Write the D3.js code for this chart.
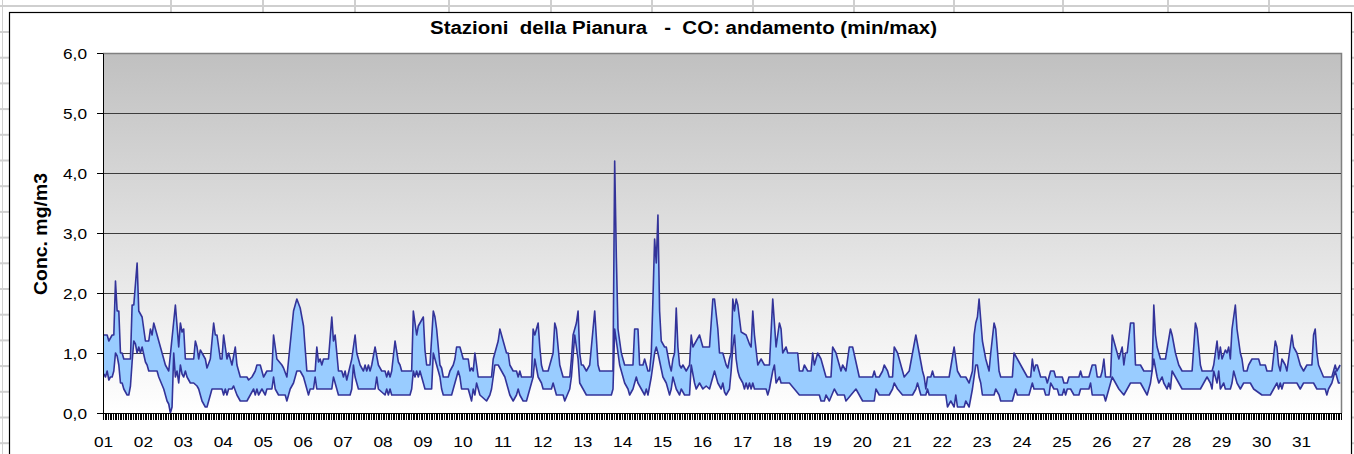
<!DOCTYPE html>
<html>
<head>
<meta charset="utf-8">
<script src="https://cdn.jsdelivr.net/npm/d3@7"></script>
<style>
  html, body { margin: 0; padding: 0; background: #fff; }
  svg { display: block; font-family: "Liberation Sans", Arial, sans-serif; }
</style>
</head>
<body>
<svg id="chart" width="1354" height="454"></svg>
<script>
    //============================================================
    // Data (hour of month, mg/m3)
    //------------------------------------------------------------

    var dayLabels = ['01', '02', '03', '04', '05', '06', '07', '08', '09', '10', '11', '12', '13', '14', '15', '16',
        '17', '18', '19', '20', '21', '22', '23', '24', '25', '26', '27', '28', '29', '30', '31'];
    var yTickValues = [0, 1, 2, 3, 4, 5, 6];
    var hoursInMonth = 744;

    var maxPoints = [
        [0,1.3],[2,1.3],[3,1.2],[5,1.3],[6,1.3],[7,2.2],[8,1.7],[9,1.7],[10,1.0],[11,1.0],[12,0.9],[16,0.9],[17,1.8],[18,1.8],[20,2.5],[21,1.7],[22,1.65],[23,1.6],
        [25,1.2],[27,1.2],[28,1.4],[29,1.3],[30,1.5],[32,1.3],[34,1.1],[36,0.9],[37,0.8],[39,0.7],[43,1.8],[45,1.1],[46,1.5],[47,1.35],
        [48,1.4],[49,0.9],[54,0.9],[55,1.2],[56,1.1],[57,0.9],[58,1.05],[60,0.95],[61,0.9],[62,0.75],[64,0.9],[66,1.5],[67,1.3],[68,1.3],[70,0.9],[71,0.9],
        [72,1.3],[74,0.9],[75,1.0],[77,0.8],[79,1.1],[80,0.8],[82,0.6],[86,0.6],[87,0.55],[89,0.6],[91,0.7],[92,0.8],[94,0.8],[95,0.7],
        [96,0.6],[98,0.7],[101,0.7],[102,1.3],[104,0.9],[107,0.8],[108,0.75],[110,0.6],[114,1.7],[115,1.8],[116,1.9],[118,1.75],
        [120,1.45],[122,0.7],[127,0.7],[128,1.1],[129,0.85],[130,0.9],[131,0.8],[132,0.9],[135,0.9],[137,1.6],[138,1.2],[139,1.3],[141,0.7],[143,0.7],
        [144,0.6],[145,0.7],[146,0.55],[149,0.9],[151,1.3],[152,1.0],[154,0.8],[156,0.7],[157,0.8],[158,0.7],[159,0.8],[160,0.7],[161,0.8],[163,1.1],[165,0.8],[167,0.7],
        [169,0.7],[170,0.6],[171,0.7],[172,0.6],[173,0.7],[175,1.2],[177,0.85],[178,0.8],[179,0.7],[185,0.7],[186,1.7],[188,1.3],[189,1.45],[191,1.55],
        [192,1.6],[193,1.05],[194,0.8],[196,0.8],[198,1.7],[199,1.6],[200,1.4],[202,0.8],[203,0.75],[204,0.6],[207,0.6],[208,0.7],[210,0.8],[211,0.9],[212,1.1],[214,1.1],
        [216,0.9],[219,0.9],[220,0.7],[221,0.75],[222,0.7],[223,1.0],[224,0.8],[225,0.6],[233,0.6],[234,0.9],[236,1.1],[237,1.2],[238,1.4],[239,1.3],
        [240,1.2],[242,1.0],[243,1.0],[244,0.8],[246,0.7],[248,0.7],[249,0.6],[250,0.7],[251,0.6],[257,0.6],[258,1.4],[259,1.3],[261,1.5],[262,1.1],[263,0.8],
        [264,0.7],[267,0.7],[268,0.8],[270,1.0],[271,1.5],[272,1.4],[274,0.8],[275,0.7],[276,0.6],[280,0.6],[281,0.9],[282,1.3],[283,1.4],[284,1.5],[285,1.7],[286,1.0],[287,0.8],
        [288,0.8],[290,0.7],[292,0.8],[295,1.7],[297,0.8],[298,0.7],[306,0.7],[307,4.2],[308,2.6],[309,1.4],[310,1.2],[311,1.0],
        [313,0.8],[318,0.8],[319,1.4],[321,1.4],[322,0.8],[324,0.8],[325,0.9],[326,0.8],[327,0.7],[328,0.7],[329,1.0],[330,1.9],[331,2.9],[332,2.5],[333,3.3],[334,1.7],[335,1.2],
        [337,1.1],[338,1.1],[340,0.8],[341,0.7],[342,0.9],[343,1.0],[344,1.75],[345,1.1],[346,0.8],[347,0.75],[348,0.8],[350,0.7],[351,0.75],[352,0.8],[353,1.3],[354,1.1],[356,1.2],[358,1.3],
        [360,1.1],[364,1.1],[365,1.5],[366,1.9],[367,1.9],[369,1.4],[370,1.0],[372,1.0],[373,0.9],[374,0.8],[375,0.75],[376,0.9],[377,1.0],[378,1.9],[379,1.7],[380,1.9],[381,1.8],[383,1.35],
        [386,1.3],[388,1.15],[389,1.1],[390,1.7],[391,1.3],[393,0.8],[395,0.9],[397,0.8],[400,0.8],[402,1.9],[404,1.1],[406,1.5],[407,1.4],
        [408,1.0],[410,1.1],[411,1.0],[417,1.0],[418,0.7],[420,0.7],[421,0.8],[423,0.7],[425,0.7],[426,1.0],[427,0.8],[428,0.9],[429,1.0],[431,0.9],
        [432,0.8],[434,0.6],[437,0.6],[438,1.1],[440,1.0],[443,0.7],[444,0.8],[446,0.7],[448,1.1],[450,1.1],[452,0.85],[454,0.6],
        [462,0.6],[463,0.7],[464,0.6],[466,0.6],[468,0.7],[469,0.8],[471,0.7],[472,0.6],[474,0.6],[475,1.1],[477,1.0],[478,0.9],
        [480,0.7],[481,0.6],[484,0.7],[486,1.0],[488,1.3],[490,1.0],[492,0.7],[493,0.6],[494,0.4],[495,0.6],[497,0.6],[498,0.7],[499,0.6],
        [508,0.6],[511,1.1],[513,0.7],[515,0.6],[518,0.6],[520,0.5],[522,0.7],[523,1.3],[524,1.5],[525,1.6],[526,1.9],
        [528,1.2],[530,0.9],[532,0.7],[533,1.0],[535,1.5],[536,1.4],[538,0.7],[539,0.6],[546,0.6],[547,1.0],[549,0.9],[551,0.8],
        [553,0.7],[555,0.6],[557,0.6],[558,0.9],[559,0.7],[560,0.8],[561,0.8],[562,0.7],[563,0.6],[566,0.6],[567,0.5],[568,0.6],[569,0.7],[571,0.7],[572,0.6],
        [576,0.6],[577,0.5],[579,0.5],[580,0.6],[586,0.6],[587,0.7],[588,0.6],[592,0.6],[594,0.8],[596,0.8],[597,0.6],[599,0.6],
        [600,0.7],[601,0.9],[602,0.6],[605,0.6],[606,1.3],[607,1.2],[609,1.0],[610,0.9],[612,1.1],[613,0.8],[614,1.0],[615,1.0],[617,1.5],[619,1.5],[620,0.8],[623,0.8],
        [625,0.7],[630,0.7],[631,1.8],[632,1.3],[633,1.1],[635,0.9],[638,0.9],[641,1.4],[642,1.3],[644,1.0],[646,0.8],
        [648,0.7],[654,0.7],[656,1.5],[657,1.4],[659,0.8],[660,0.7],[666,0.7],[667,0.8],[669,1.2],[670,0.9],[671,1.1],
        [672,0.9],[674,1.05],[675,1.0],[676,1.1],[677,0.9],[678,1.4],[680,1.8],[681,1.4],[683,1.0],[684,0.9],[685,0.7],[687,0.7],[688,0.8],[690,0.9],[694,0.9],[695,0.8],
        [698,0.8],[699,0.7],[702,0.7],[704,1.2],[705,1.1],[706,0.8],[707,0.7],[708,0.9],[710,0.8],[711,0.7],[714,1.3],[715,1.1],[717,1.0],[719,0.8],
        [721,0.7],[723,0.8],[726,0.8],[727,1.3],[728,1.4],[729,1.0],[730,0.8],[733,0.6],[738,0.6],[739,0.7],[740,0.8],[741,0.7],[743,0.8]
    ];

    var minPoints = [
        [0,0.65],[1,0.6],[2,0.7],[3,0.55],[4,0.6],[5,0.6],[6,0.7],[7,1.0],[8,0.95],[9,0.8],[10,0.5],[11,0.5],[12,0.4],[14,0.3],[15,0.3],[16,0.45],[17,0.85],[18,1.2],[19,1.15],[20,1.0],[21,1.1],[22,1.0],[23,1.1],
        [25,0.85],[26,0.8],[27,0.7],[32,0.7],[33,0.6],[36,0.4],[38,0.2],[39,0.15],[40,0.0],[41,0.1],[42,1.0],[43,0.6],[44,0.7],[45,0.5],[46,0.8],[47,0.65],
        [48,0.6],[49,0.7],[50,0.6],[52,0.5],[54,0.5],[56,0.45],[57,0.4],[59,0.2],[61,0.1],[62,0.1],[63,0.2],[65,0.4],[71,0.4],
        [72,0.3],[73,0.4],[74,0.3],[75,0.4],[77,0.4],[78,0.45],[80,0.3],[82,0.2],[86,0.2],[88,0.3],[90,0.4],[91,0.3],[92,0.4],[93,0.3],[95,0.4],
        [97,0.3],[98,0.4],[101,0.4],[102,0.6],[103,0.4],[105,0.3],[109,0.3],[110,0.2],[112,0.4],[114,0.5],[116,0.7],[118,0.7],
        [120,0.6],[122,0.4],[123,0.3],[124,0.4],[126,0.4],[127,0.6],[128,0.4],[137,0.4],[138,0.6],[140,0.4],[141,0.3],
        [148,0.3],[149,0.4],[150,0.8],[151,0.6],[153,0.4],[163,0.4],[164,0.6],[165,0.4],
        [169,0.3],[170,0.4],[171,0.3],[172,0.4],[173,0.3],[184,0.3],[185,0.4],[186,0.7],[187,0.6],[188,0.7],[189,0.6],[190,0.7],[191,0.6],
        [193,0.4],[197,0.4],[198,1.0],[200,0.8],[202,0.6],[203,0.4],[204,0.3],[209,0.3],[210,0.4],[211,0.5],[212,0.6],[213,0.7],[214,0.6],[215,0.4],
        [219,0.4],[220,0.3],[221,0.2],[222,0.4],[223,0.3],[224,0.5],[225,0.4],[226,0.3],[230,0.2],[232,0.3],[233,0.4],[234,0.6],[235,0.8],[237,0.8],[239,0.7],
        [241,0.6],[242,0.5],[243,0.4],[244,0.3],[246,0.2],[248,0.3],[249,0.4],[250,0.3],[252,0.2],[254,0.2],[255,0.3],[258,0.6],[259,0.9],[261,0.6],[263,0.5],
        [264,0.4],[269,0.4],[270,0.5],[271,0.4],[272,0.3],[276,0.3],[277,0.2],[280,0.4],[281,0.6],[283,1.3],[285,0.9],[286,0.5],
        [288,0.4],[290,0.3],[305,0.3],[306,0.4],[307,1.4],[309,1.0],[310,0.8],
        [313,0.5],[315,0.4],[316,0.3],[318,0.4],[320,0.6],[321,0.5],[323,0.4],[325,0.3],[326,0.4],[327,0.3],[329,0.6],[331,1.0],[332,1.1],[333,1.0],
        [336,0.6],[338,0.5],[340,0.3],[341,0.4],[342,0.6],[344,0.4],[346,0.3],[347,0.4],[349,0.3],[352,0.3],[353,0.8],[355,0.5],[356,0.4],[358,0.5],
        [360,0.4],[362,0.45],[364,0.4],[367,0.7],[369,0.5],[371,0.4],[372,0.5],[373,0.35],[374,0.3],[376,0.4],[377,0.7],[378,1.1],[379,1.3],[380,0.9],[381,0.7],[382,0.6],
        [384,0.5],[385,0.4],[386,0.5],[387,0.4],[388,0.5],[389,0.4],[390,0.5],[391,0.4],[398,0.4],[399,0.3],[400,0.4],[402,0.7],[403,0.8],[404,0.5],[406,0.6],[407,0.5],
        [412,0.5],[415,0.4],[418,0.3],[430,0.3],[431,0.2],
        [433,0.2],[434,0.3],[436,0.2],[439,0.4],[441,0.3],[445,0.3],[446,0.2],[449,0.3],[452,0.4],[454,0.3],
        [456,0.2],[463,0.2],[464,0.4],[466,0.3],[472,0.3],[474,0.4],[475,0.5],[477,0.4],
        [480,0.3],[486,0.3],[488,0.4],[489,0.5],[491,0.3],[494,0.3],[495,0.4],[496,0.3],
        [506,0.3],[507,0.1],[509,0.2],[511,0.1],[512,0.3],[513,0.1],[517,0.1],[518,0.2],[520,0.1],[522,0.4],[524,0.8],[525,0.8],[526,0.6],[527,0.5],
        [528,0.3],[535,0.3],[536,0.4],[538,0.3],[539,0.2],[546,0.2],[547,0.3],[548,0.4],[549,0.3],
        [556,0.3],[557,0.4],[558,0.5],[559,0.4],[565,0.4],[566,0.3],[568,0.3],[569,0.5],[571,0.4],[573,0.4],[574,0.3],
        [576,0.3],[577,0.4],[578,0.3],[579,0.4],[581,0.4],[583,0.3],[586,0.3],[587,0.4],[592,0.4],[593,0.5],[594,0.3],
        [601,0.3],[602,0.2],[603,0.3],[605,0.5],[606,0.6],[608,0.5],[610,0.4],[613,0.3],[615,0.4],[617,0.5],[623,0.5],
        [625,0.4],[627,0.3],[629,0.5],[631,0.9],[633,0.6],[634,0.5],[636,0.6],[637,0.5],[639,0.4],[640,0.5],[641,0.4],[642,0.7],[644,0.6],[646,0.5],
        [648,0.4],[659,0.4],[661,0.5],[663,0.6],[665,0.5],[666,0.4],[667,0.7],[668,0.6],[669,0.5],[670,0.7],[671,0.4],
        [673,0.5],[674,0.4],[677,0.4],[678,0.5],[679,0.7],[681,0.5],[683,0.4],[685,0.5],[689,0.5],[691,0.4],[696,0.3],
        [701,0.3],[703,0.4],[705,0.5],[706,0.4],[707,0.5],[708,0.4],[709,0.5],[717,0.5],[719,0.4],
        [721,0.5],[727,0.5],[729,0.4],[734,0.4],[735,0.3],[736,0.4],[738,0.5],[739,0.6],[740,0.7],[742,0.5],[743,0.5]
    ];

    //============================================================
    // Layout
    //------------------------------------------------------------

    var width = 1354,
        height = 454,
        plotLeft = 103,
        plotRight = 1341,
        plotTop = 53,
        plotBottom = 413,
        lineColor = '#333399',
        fillColor = '#99ccff',
        sheetColor = '#cfcfcf',
        labelFont = '"Liberation Sans", Arial, sans-serif',
        textStretch = 'scale(1.15,1)';

    var svg = d3.select('#chart');

    var x = d3.scaleLinear().domain([0, hoursInMonth]).range([plotLeft, plotRight]);
    var y = d3.scaleLinear().domain([0, 6]).range([plotBottom, plotTop]);

    // italian decimal comma for the value axis
    var itLocale = d3.formatLocale({decimal: ',', thousands: '.', grouping: [3], currency: ['', ' €']});
    var fmt = itLocale.format('.1f');

    //============================================================
    // Spreadsheet cells showing round the chart object
    //------------------------------------------------------------

    var sheet = svg.append('g').attr('class', 'sheet')
        .style('stroke', sheetColor);

    sheet.append('line')
        .attr('x1', 0).attr('x2', width)
        .attr('y1', 6).attr('y2', 6)
        .style('stroke-width', 2);

    var colLines = [171, 263, 355, 449, 551, 652, 753, 854, 954, 1063, 1168, 1269];
    sheet.selectAll('line.col')
        .data(colLines)
        .enter()
        .append('line')
        .attr('class', 'col')
        .attr('x1', function(d) { return d; })
        .attr('x2', function(d) { return d; })
        .attr('y1', 0).attr('y2', 12)
        .style('stroke-width', 2);

    sheet.append('line')
        .attr('x1', 2.5).attr('x2', 2.5)
        .attr('y1', 0).attr('y2', height)
        .style('stroke-width', 1);

    var rowLines = d3.range(0, 17).map(function(k) { return 32 + k * 25.7; });
    sheet.selectAll('line.row')
        .data(rowLines)
        .enter()
        .append('line')
        .attr('class', 'row')
        .attr('x1', 0).attr('x2', 9)
        .attr('y1', function(d) { return d; })
        .attr('y2', function(d) { return d; })
        .style('stroke-width', 2);
    sheet.selectAll('line.rowR')
        .data(rowLines)
        .enter()
        .append('line')
        .attr('class', 'rowR')
        .attr('x1', 1352).attr('x2', width)
        .attr('y1', function(d) { return d; })
        .attr('y2', function(d) { return d; })
        .style('stroke-width', 2);

    // chart object frame
    svg.append('rect')
        .attr('x', 9.5).attr('y', 12.5)
        .attr('width', 1342).attr('height', 460)
        .style('fill', '#fff')
        .style('stroke', '#000')
        .style('stroke-width', 1.2);

    //============================================================
    // Plot area: grey gradient, gridlines
    //------------------------------------------------------------

    var grad = svg.append('defs').append('linearGradient')
        .attr('id', 'plotBg')
        .attr('x1', 0).attr('y1', 0)
        .attr('x2', 0).attr('y2', 1);
    grad.append('stop').attr('offset', '0%').attr('stop-color', '#c0c0c0');
    grad.append('stop').attr('offset', '100%').attr('stop-color', '#ffffff');

    svg.append('rect')
        .attr('x', plotLeft).attr('y', plotTop)
        .attr('width', plotRight - plotLeft).attr('height', plotBottom - plotTop)
        .style('fill', 'url(#plotBg)');

    svg.append('path')
        .attr('d', 'M' + plotLeft + ',' + (plotTop + 0.5) + 'H' + (plotRight + 0.5) + 'V' + plotBottom)
        .style('fill', 'none')
        .style('stroke', '#808080')
        .style('stroke-width', 1.5);

    svg.append('g').attr('class', 'grid')
        .selectAll('line')
        .data(yTickValues.slice(1, -1))
        .enter()
        .append('line')
        .attr('x1', plotLeft).attr('x2', plotRight)
        .attr('y1', function(d) { return y(d) + 0.5; })
        .attr('y2', function(d) { return y(d) + 0.5; })
        .style('stroke', '#3c3c3c')
        .style('stroke-width', 1);

    //============================================================
    // Min / max band
    //------------------------------------------------------------

    var line = d3.line()
        .x(function(d) { return x(d[0] + 0.5); })
        .y(function(d) { return y(d[1]); });

    var band = maxPoints.concat(minPoints.slice().reverse());
    svg.append('path')
        .attr('class', 'band')
        .attr('d', line(band) + 'Z')
        .style('fill', fillColor)
        .style('stroke', 'none');

    [maxPoints, minPoints].forEach(function(series) {
        svg.append('path')
            .attr('d', line(series))
            .style('fill', 'none')
            .style('stroke', lineColor)
            .style('stroke-width', 1.6)
            .style('stroke-linejoin', 'round');
    });

    //============================================================
    // Axes
    //------------------------------------------------------------

    var yAxisG = svg.append('g')
        .attr('transform', 'translate(' + plotLeft + ',0)')
        .attr('color', '#000')
        .call(d3.axisLeft(y).tickValues(yTickValues).tickSize(6).tickSizeOuter(0).tickFormat(fmt))
        .attr('font-family', labelFont)
        .attr('font-size', 15);
    yAxisG.selectAll('.tick text')
        .attr('x', 0)
        .attr('dy', '0.35em')
        .attr('transform', 'translate(-16,0) ' + textStretch)
        .style('font-weight', 'normal')
        .style('fill', '#000');

    var xLabelG = svg.append('g')
        .attr('transform', 'translate(0,' + plotBottom + ')')
        .call(d3.axisBottom(x)
            .tickValues(d3.range(0, dayLabels.length).map(function(i) { return i * 24; }))
            .tickSize(0)
            .tickFormat(function(d, i) { return dayLabels[i]; }))
        .attr('font-family', labelFont)
        .attr('font-size', 15);
    xLabelG.select('.domain').remove();
    xLabelG.selectAll('.tick text')
        .attr('y', 0)
        .attr('dy', null)
        .attr('transform', 'translate(0,34) ' + textStretch)
        .style('font-weight', 'normal')
        .style('fill', '#000');

    //============================================================
    // Titles
    //------------------------------------------------------------

    svg.append('text')
        .attr('x', 683.5)
        .attr('y', 34)
        .attr('text-anchor', 'middle')
        .attr('textLength', 507)
        .attr('lengthAdjust', 'spacingAndGlyphs')
        .attr('xml:space', 'preserve')
        .style('white-space', 'pre')
        .style('font-size', '17.5px')
        .style('font-weight', 'bold')
        .text('Stazioni  della Pianura   -  CO: andamento (min/max)');

    svg.append('text')
        .attr('transform', 'translate(46.5,234) ' + textStretch + ' rotate(-90)')
        .attr('text-anchor', 'middle')
        .attr('textLength', 122)
        .attr('lengthAdjust', 'spacingAndGlyphs')
        .style('font-size', '16.5px')
        .style('font-weight', 'bold')
        .text('Conc. mg/m3');

    //============================================================
    // Category axis: line and one tick mark per hour (drawn last)
    //------------------------------------------------------------

    svg.append('path')
        .attr('class', 'hour-ticks')
        .attr('d', d3.range(0, hoursInMonth + 1).map(function(d) {
            return 'M' + (Math.round(x(d)) + 0.5) + ',' + (plotBottom + 1) + 'v6';
        }).join(''))
        .style('fill', 'none')
        .style('stroke', '#000')
        .style('stroke-width', 1);

    svg.append('line')
        .attr('x1', plotLeft).attr('x2', plotRight + 1)
        .attr('y1', plotBottom + 0.5).attr('y2', plotBottom + 0.5)
        .style('stroke', '#000')
        .style('stroke-width', 1);
</script>
</body>
</html>
